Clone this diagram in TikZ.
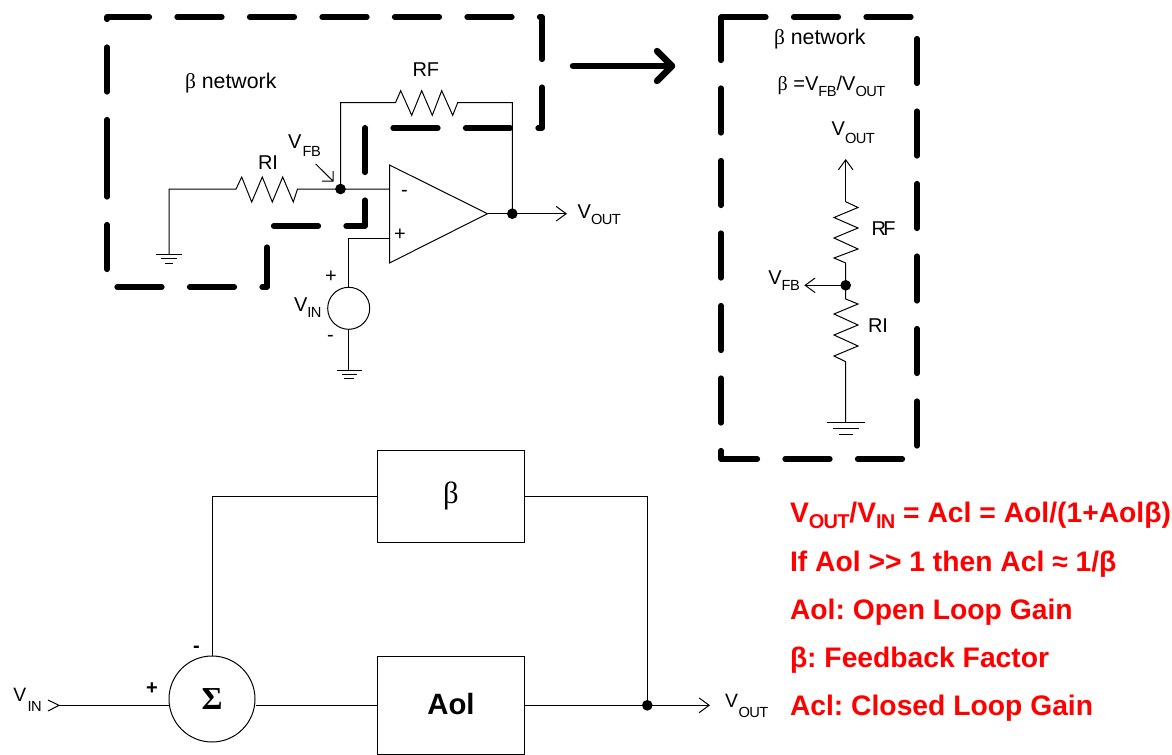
\documentclass[tikz,border=0pt]{standalone}
\usepackage{fontspec}
\setmainfont{Liberation Sans}
\newfontfamily\symf{Liberation Serif}
\newfontfamily\subf[LetterSpace=-4]{Liberation Sans}
\usetikzlibrary{arrows.meta}
\definecolor{redtxt}{RGB}{255,0,0}
\newcommand{\fs}[1]{\fontsize{#1}{#1}\selectfont}
\newcommand{\sbs}[2]{\raisebox{#1}{\fs{11}\subf #2}}
\newcommand{\rsb}[1]{\raisebox{-4.5pt}{\fs{15}\subf\bfseries #1}}
\newcommand{\bet}{{\symf β}}
\tikzset{
  wire/.style={draw=black,line width=0.75pt,line join=miter},
  arrowwire/.style={wire,-{Straight Barb[length=7.5pt,width=11pt,line width=0.75pt]}},
  bigdash/.style={draw=black,line width=3.9pt,line cap=round,line join=round,dash pattern=on 33.75pt off 20.625pt},
  bigarrow/.style={draw=black,line width=4.8pt,line cap=round,line join=round},
  txt/.style={inner sep=0pt,outer sep=0pt,anchor=base west,text=black,font=\fs{15}},
  redline/.style={inner sep=0pt,outer sep=0pt,anchor=base west,text=redtxt,font=\fs{21.2}\bfseries},
  dotnode/.style={circle,fill=black,draw=none,inner sep=0pt,minimum size=8pt},
  block/.style={draw=black,line width=0.75pt,fill=none,inner sep=0pt,rectangle},
  sumnode/.style={draw=black,line width=0.75pt,circle,inner sep=0pt,minimum size=64.5pt},
  srcnode/.style={draw=black,line width=0.75pt,circle,inner sep=0pt,minimum size=31.5pt},
}
\begin{document}
\frenchspacing
\begin{tikzpicture}[x=0.75pt,y=-0.75pt]
\useasboundingbox (0,0) rectangle (1172,754);
% dashed boxes
\draw[bigdash] (107,152)--(107,287)--(267,287)--(267,226)--(365,226)--(365,128)--(542,128)--(542,17)--(107,17)--cycle;
\draw[bigdash] (721,17)--(917,17)--(917,459)--(721,459)--cycle;
% big arrow
\coordinate (ba) at (573,66); \coordinate (bb) at (672,66);
\draw[bigarrow] (ba)--(bb);
\draw[bigarrow] (657,51)--(bb)--(657,81);
% op amp circuit
\coordinate (gl) at (169,254);
\coordinate (ri1) at (236,189);
\coordinate (ri2) at (297.5,189);
\node[dotnode] (n1) at (340.5,189) {};
\coordinate (rf1) at (395.5,102.7);
\coordinate (rf2) at (457.7,102.7);
\coordinate (tr) at (512.3,102.7);
\node[dotnode] (n2) at (512.3,213.7) {};
\coordinate (out) at (567,213.7);
\coordinate (ominus) at (389.5,189);
\coordinate (oplus) at (389.5,238.3);
\coordinate (otip) at (487.5,213.7);
\node[srcnode] (vs) at (348.7,308.3) {};
\coordinate (gs) at (348.7,370);
\draw[wire] (389.5,165)--(389.5,263)--(otip)--cycle;
\draw[wire] (gl)--(169,189)--(ri1)--(241.7,177)--(251.7,202)--(262.3,177)--(272.3,202)--(282.7,177)--(293.3,202)--(ri2)--(n1.center)--(ominus);
\draw[wire] (n1.center)--(340.5,102.7)--(rf1)--(400.7,90.7)--(411.7,115.3)--(421.7,90.7)--(432.3,115.3)--(441.7,90.7)--(452.7,115.3)--(rf2)--(tr)--(n2.center);
\draw[wire] (otip)--(n2.center);
\draw[arrowwire] (n2.center)--(out);
\draw[wire] (oplus)--(348.7,238.3)--(vs.north);
\draw[wire] (vs.south)--(gs);
\draw[wire] (156,254)--(182,254) (161,258.5)--(177,258.5) (165,263)--(173,263);
\draw[wire] (337,370)--(362,370) (342,374.3)--(357,374.3) (344,378.5)--(354,378.5);
\draw[wire] (315.7,164)--(333,181) (322,181)--(333,181)--(333,171);
% labels
\node[txt,font=\fs{16}] (t1) at (185,88) {\bet\ network};
\node[txt] (t2) at (412.5,76) {RF};
\node[txt] (t3) at (258,169) {RI};
\node[txt] (t4) at (288,148) {V\kern1pt\sbs{-6.5pt}{FB}};
\node[txt] (t5) at (401,196) {-};
\node[txt] (t6) at (394,240) {+};
\node[txt] (t7) at (577.7,218) {V\sbs{-4.5pt}{OUT}};
\node[txt] (t8) at (325,282) {+};
\node[txt] (t9) at (327,341) {-};
\node[txt] (t10) at (294,311) {V\sbs{-4.5pt}{IN}};
% right network
\node[txt,font=\fs{16}] (t11) at (774,44) {\bet\ network};
\node[txt] (t12) at (777.7,90.7) {\bet\ =V\sbs{-4pt}{FB}/V\sbs{-4pt}{OUT}};
\node[txt] (t13) at (831.7,135.7) {V\sbs{-6pt}{OUT}};
\node[dotnode] (n3) at (845.7,285.3) {};
\coordinate (atop) at (845.7,159);
\coordinate (afb) at (804.3,285.3);
\coordinate (gr) at (845.7,422.3);
\draw[arrowwire] (845.7,201.7)--(atop);
\draw[wire] (845.7,201.7)--(858,207.5)--(834,217.5)--(858,228)--(834,238)--(858,249)--(834,258)--(845.7,263)--(n3.center)--(845.7,299)--(858,304)--(834,314)--(858,325)--(834,335)--(858,346)--(834,356)--(845.7,361.7)--(gr);
\draw[arrowwire] (n3.center)--(afb);
\draw[wire] (827.3,422.3)--(865,422.3) (833,428.3)--(859,428.3) (839,434.7)--(852.7,434.7);
\node[txt] (t14) at (871.5,235.7) {R\kern-2pt F};
\node[txt] (t15) at (868,332) {RI};
\node[txt] (t16) at (768.3,284) {V\sbs{-4.5pt}{FB}};
% block diagram
\node[block,minimum width=110.5pt,minimum height=69pt] (bbeta) at (451,496.3) {\raisebox{-1pt}{\fs{23}\symf β}};
\node[block,minimum width=110.5pt,minimum height=73.5pt] (baol) at (451,705.3) {\raisebox{1.5pt}{\fs{22}\bfseries Aol}};
\node[sumnode] (sum) at (212,699) {\raisebox{-1pt}{\fs{24}\bfseries\symf Σ}};
\node[dotnode] (n4) at (647.3,705.3) {};
\coordinate (vin) at (59,705.3);
\coordinate (vout) at (710,705.3);
\draw[wire] (vin)--(sum.west |- vin);
\draw[wire] (48,700)--(vin)--(48,711);
\draw[wire] (sum.east |- baol)--(baol.west);
\draw[wire] (baol.east)--(n4.center);
\draw[arrowwire] (n4.center)--(vout);
\draw[wire] (bbeta.east)--(n4 |- bbeta)--(n4.center);
\draw[wire] (bbeta.west)--(sum.north |- bbeta)--(sum.north);
\node[txt,font=\fs{15}\bfseries] (t17) at (193,652) {-};
\node[txt,font=\fs{15}\bfseries] (t18) at (146,694) {+};
\node[txt,font=\fs{14.5}] (t19) at (13.3,701.7) {V\kern1pt\sbs{-7pt}{IN}};
\node[txt,font=\fs{14.5}] (t20) at (725,707.7) {V\kern0.5pt\sbs{-7pt}{OUT}};
% red text
\node[redline] (r1) at (790,522) {V\rsb{OUT}/V\rsb{IN} = Acl = Aol/(1+Aolβ)};
\node[redline] (r2) at (790,571) {If Aol {>}{>} 1 then Acl ≈ 1/β};
\node[redline] (r3) at (790,619) {Aol: Open Loop Gain};
\node[redline] (r4) at (790,667) {β: Feedback Factor};
\node[redline] (r5) at (790,715) {Acl: Closed Loop Gain};
\end{tikzpicture}
\end{document}
